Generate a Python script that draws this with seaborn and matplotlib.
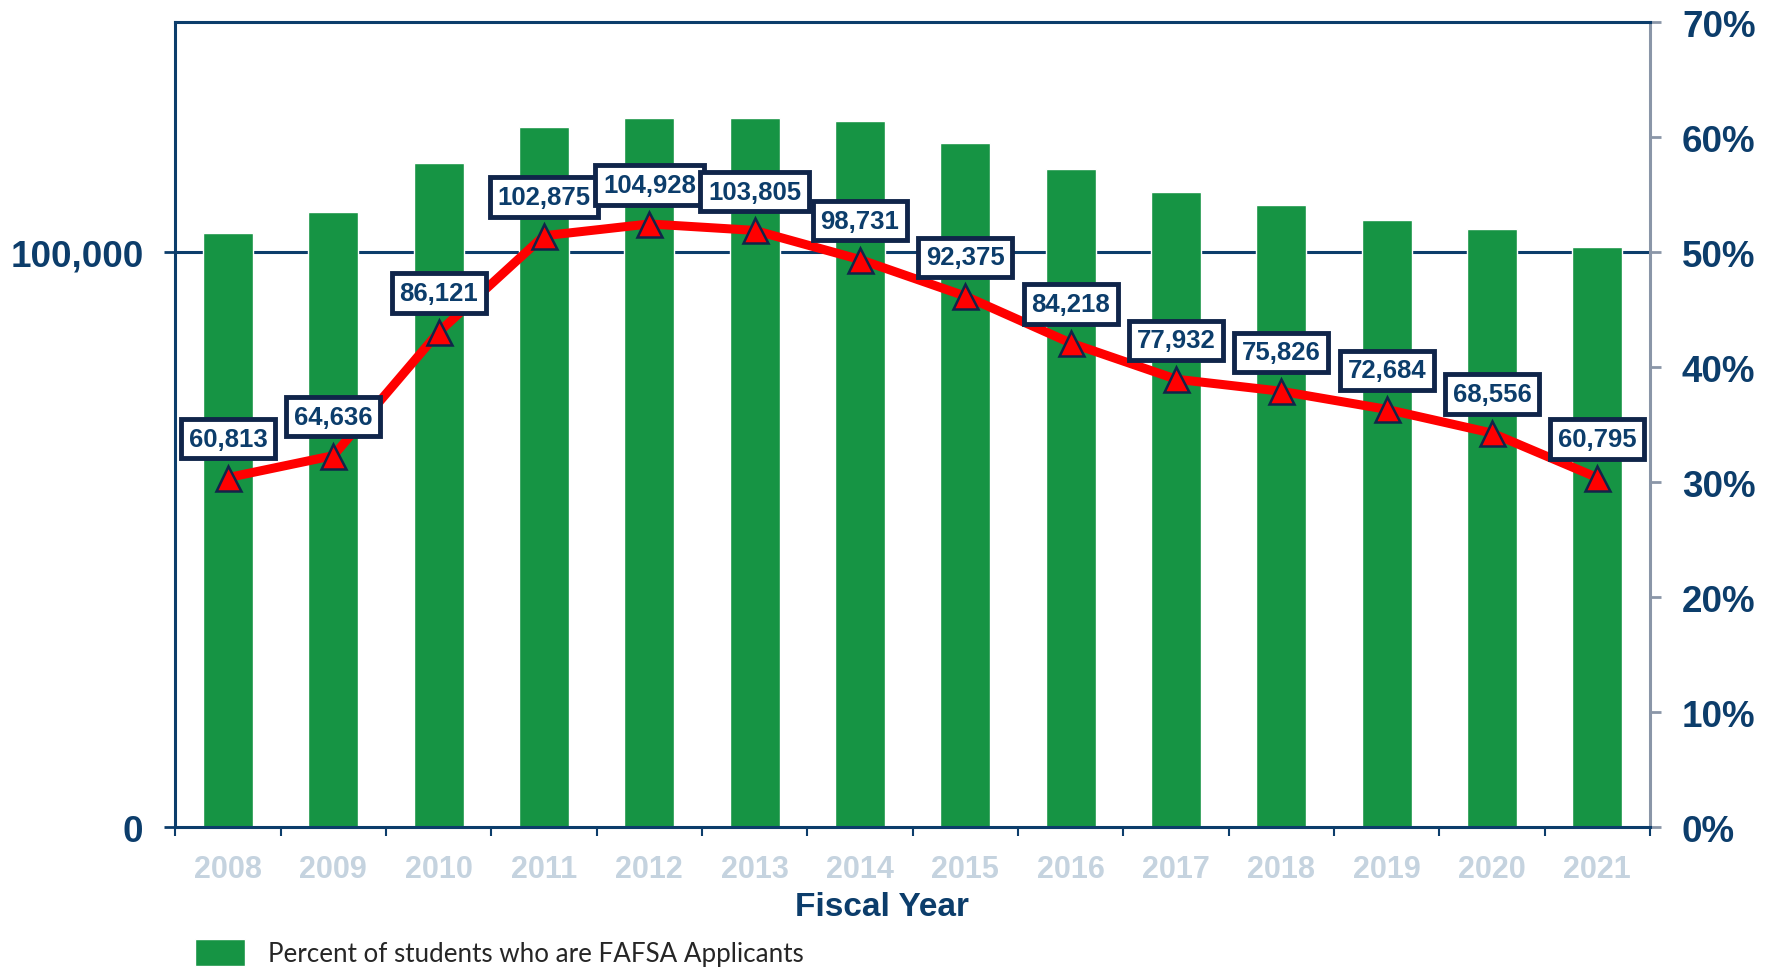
import numpy as np
import matplotlib
matplotlib.use("Agg")
import matplotlib.pyplot as plt
import matplotlib.ticker as mticker
import seaborn as sns

# === DATA ===
years = ["2008", "2009", "2010", "2011", "2012", "2013", "2014",
         "2015", "2016", "2017", "2018", "2019", "2020", "2021"]
pct_fafsa = [51.7, 53.5, 57.8, 60.9, 61.7, 61.7, 61.4,
             59.5, 57.2, 55.2, 54.1, 52.8, 52.0, 50.5]
students = [60813, 64636, 86121, 102875, 104928, 103805, 98731,
            92375, 84218, 77932, 75826, 72684, 68556, 60795]
left_ticks = [0, 100000]
right_ticks = [0, 10, 20, 30, 40, 50, 60, 70]
legend_label = "Percent of students who are FAFSA Applicants"

# === STYLE ===
sns.set_style("white")
plt.rcParams["font.family"] = ["Liberation Sans", "DejaVu Sans"]

navy = "#0c3d6b"
box_edge = "#10254a"
green = "#169444"
grey = "#8a96a8"
light = "#c5d3df"

fig = plt.figure(figsize=(17.75, 9.7), dpi=100)
ax = fig.add_axes([0.0988, 0.1461, 0.8308, 0.8299])
ax2 = ax.twinx()  # count axis, drawn on top, ticks on the left

# === BARS: percent axis (shown on the right) ===
sns.barplot(x=years, y=pct_fafsa, color=green, saturation=1,
            width=0.475, ax=ax, label=legend_label, zorder=2)
ax.axhline(50, color=navy, lw=2.2, zorder=1)
ax.set_ylim(0, 70)
ax.set_xlim(-0.5, len(years) - 0.5)
ax.set_ylabel("")
if ax.get_legend() is not None:
    ax.get_legend().remove()

# === LINE: count axis (shown on the left) ===
x_pos = np.arange(len(years))
sns.lineplot(x=x_pos, y=students, ax=ax2, color="red", lw=6.5,
             marker="^", markersize=18, markerfacecolor="red",
             markeredgecolor=box_edge, markeredgewidth=1.8, zorder=3)
ax2.set_ylim(0, 140000)
ax2.set_xlim(-0.5, len(years) - 0.5)
ax2.set_ylabel("")
ax2.set_xlabel("")

for i, v in enumerate(students):
    ax2.annotate(f"{v:,}", (x_pos[i], v), xytext=(0, 28),
                 textcoords="offset points", ha="center", va="center",
                 fontsize=18.5, fontweight="bold", color=navy, zorder=5,
                 bbox=dict(boxstyle="square,pad=0.3", fc="white",
                           ec=box_edge, lw=3.5))

# === AXES DRESSING ===
ax.yaxis.tick_right()
ax.yaxis.set_major_locator(mticker.FixedLocator(right_ticks))
ax.yaxis.set_major_formatter(mticker.PercentFormatter(xmax=100, decimals=0))
ax.tick_params(axis="y", which="major", right=True, left=False,
               labelright=True, labelleft=False, direction="out",
               length=8, width=2, color=grey, pad=15, labelsize=26.5,
               labelcolor=navy)

ax2.yaxis.tick_left()
ax2.yaxis.set_major_locator(mticker.FixedLocator(left_ticks))
ax2.yaxis.set_major_formatter(mticker.FuncFormatter(lambda v, p: f"{int(v):,}"))
ax2.tick_params(axis="y", left=True, right=False, labelleft=True,
                labelright=False, direction="out", length=8, width=2,
                color=navy, pad=15, labelsize=26.5, labelcolor=navy)
for side in ax2.spines:
    ax2.spines[side].set_visible(False)

# x ticks: labels at centers, tick marks between categories
ax.tick_params(axis="x", which="major", length=0, pad=19, labelsize=22,
               labelcolor=light)
ax.xaxis.set_minor_locator(mticker.FixedLocator(np.arange(-0.5, len(years), 1)))
ax.tick_params(axis="x", which="minor", bottom=True, direction="out",
               length=6.5, width=1.5, color=navy)
ax.set_xlabel("Fiscal Year", fontsize=24, fontweight="bold", color=navy)
ax.xaxis.set_label_coords(0.479, -0.079)

for side in ["left", "top", "bottom"]:
    ax.spines[side].set_color(navy)
    ax.spines[side].set_linewidth(2.2)
ax.spines["right"].set_color(grey)
ax.spines["right"].set_linewidth(2.2)

for lbl in ax.get_yticklabels() + ax.get_xticklabels() + ax2.get_yticklabels():
    lbl.set_fontweight("bold")

# === LEGEND ===
handles, labels = ax.get_legend_handles_labels()
fig.legend(handles[:1], [legend_label], loc="center left",
           bbox_to_anchor=(0.110, 0.017), frameon=False,
           borderpad=0, borderaxespad=0, handlelength=1.92,
           handleheight=1.28, handletextpad=0.88,
           prop={"family": ["Lato", "DejaVu Sans"], "size": 18.7})

plt.savefig("out.png", dpi=100)
plt.close()
